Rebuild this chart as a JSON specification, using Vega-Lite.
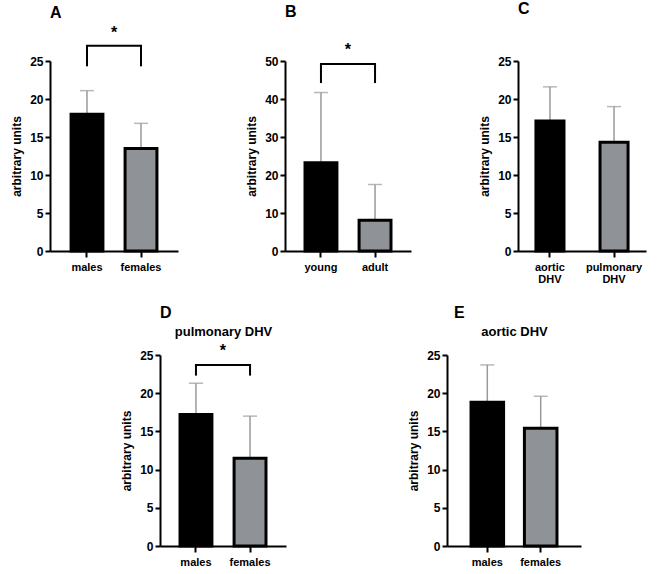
{
  "$schema": "https://vega.github.io/schema/vega-lite/v6.json",
  "padding": {"left": 10, "top": 1, "right": 5, "bottom": 5},
  "background": "white",
  "spacing": 21,
  "config": {
    "view": {"stroke": null},
    "axis": {"domainColor": "black", "domainWidth": 2, "tickColor": "black", "tickWidth": 2, "tickSize": 5, "grid": false,
      "labelFont": "Liberation Sans", "labelFontWeight": "bold", "labelColor": "black", "labelFontSize": 12, "labelPadding": 2,
      "titleFont": "Liberation Sans", "titleFontSize": 12, "titleFontWeight": "bold", "titleColor": "black", "titlePadding": 6},
    "axisX": {"labelFontSize": 11, "tickSize": 6, "labelAngle": 0, "labelPadding": 4, "labelLineHeight": 12},
    "title": {"font": "Liberation Sans", "fontWeight": "bold", "color": "black"},
    "text": {"font": "Liberation Sans"}
  },
  "vconcat": [
    {
      "bounds": "flush",
      "spacing": 107,
      "hconcat": [
        {
          "title": {"text": "A", "anchor": "start", "frame": "group", "fontSize": 16, "offset": 4},
          "width": 128, "height": 190,
          "layer": [
            {
              "data": {"values": [{"group": "males", "mean": 18.0, "upper": 21.1}, {"group": "females", "mean": 13.5, "upper": 16.8}]},
              "layer": [
                {"mark": {"type": "rule", "color": "#9a9a9a", "strokeWidth": 1.5},
                 "encoding": {"x": {"field": "group", "type": "nominal", "scale": {"domain": ["males", "females"], "paddingInner": 0.41, "paddingOuter": 0.39}, "axis": {"title": null}},
                              "y": {"field": "mean", "type": "quantitative", "scale": {"domain": [0, 25], "nice": false}, "axis": {"values": [0, 5, 10, 15, 20, 25], "title": "arbitrary units"}},
                              "y2": {"field": "upper"}}},
                {"mark": {"type": "tick", "color": "#9a9a9a", "thickness": 1.5, "size": 14},
                 "encoding": {"x": {"field": "group", "type": "nominal"}, "y": {"field": "upper", "type": "quantitative", "axis": {"values": [0, 5, 10, 15, 20, 25], "title": "arbitrary units"}}}},
                {"mark": {"type": "bar", "stroke": "black", "strokeWidth": 3},
                 "encoding": {"x": {"field": "group", "type": "nominal"}, "y": {"field": "mean", "type": "quantitative", "axis": {"values": [0, 5, 10, 15, 20, 25], "title": "arbitrary units"}},
                              "fill": {"field": "group", "type": "nominal", "scale": {"domain": ["males", "females"], "range": ["#000000", "#8f9296"]}, "legend": null}}}
              ]
            },
            {
              "data": {"values": [{"g1": "males", "g2": "females", "top": 27.0, "bot": 24.3, "star": 28.0, "sig": "*"}]},
              "layer": [
                {"mark": {"type": "rule", "color": "black", "strokeWidth": 2, "strokeCap": "square"},
                 "encoding": {"x": {"field": "g1", "type": "nominal"}, "x2": {"field": "g2"}, "y": {"field": "top", "type": "quantitative", "axis": {"values": [0, 5, 10, 15, 20, 25], "title": "arbitrary units"}}}},
                {"mark": {"type": "rule", "color": "black", "strokeWidth": 2},
                 "encoding": {"x": {"field": "g1", "type": "nominal"}, "y": {"field": "top", "type": "quantitative", "axis": {"values": [0, 5, 10, 15, 20, 25], "title": "arbitrary units"}}, "y2": {"field": "bot"}}},
                {"mark": {"type": "rule", "color": "black", "strokeWidth": 2},
                 "encoding": {"x": {"field": "g2", "type": "nominal"}, "y": {"field": "top", "type": "quantitative", "axis": {"values": [0, 5, 10, 15, 20, 25], "title": "arbitrary units"}}, "y2": {"field": "bot"}}},
                {"mark": {"type": "text", "fontSize": 16, "fontWeight": "bold", "baseline": "alphabetic", "dx": 27},
                 "encoding": {"x": {"field": "g1", "type": "nominal"}, "y": {"field": "star", "type": "quantitative", "axis": {"values": [0, 5, 10, 15, 20, 25], "title": "arbitrary units"}}, "text": {"field": "sig"}}}
              ]
            }
          ]
        },
        {
          "title": {"text": "B", "anchor": "start", "frame": "group", "fontSize": 16, "offset": 22},
          "width": 126, "height": 190,
          "layer": [
            {
              "data": {"values": [{"group": "young", "mean": 23.2, "upper": 41.7}, {"group": "adult", "mean": 8.1, "upper": 17.5}]},
              "layer": [
                {"mark": {"type": "rule", "color": "#9a9a9a", "strokeWidth": 1.5},
                 "encoding": {"x": {"field": "group", "type": "nominal", "scale": {"domain": ["young", "adult"], "paddingInner": 0.41, "paddingOuter": 0.37}, "axis": {"title": null}},
                              "y": {"field": "mean", "type": "quantitative", "scale": {"domain": [0, 50], "nice": false}, "axis": {"values": [0, 10, 20, 30, 40, 50], "title": "arbitrary units"}},
                              "y2": {"field": "upper"}}},
                {"mark": {"type": "tick", "color": "#9a9a9a", "thickness": 1.5, "size": 14},
                 "encoding": {"x": {"field": "group", "type": "nominal"}, "y": {"field": "upper", "type": "quantitative", "axis": {"values": [0, 10, 20, 30, 40, 50], "title": "arbitrary units"}}}},
                {"mark": {"type": "bar", "stroke": "black", "strokeWidth": 3},
                 "encoding": {"x": {"field": "group", "type": "nominal"}, "y": {"field": "mean", "type": "quantitative", "axis": {"values": [0, 10, 20, 30, 40, 50], "title": "arbitrary units"}},
                              "fill": {"field": "group", "type": "nominal", "scale": {"domain": ["young", "adult"], "range": ["#000000", "#8f9296"]}, "legend": null}}}
              ]
            },
            {
              "data": {"values": [{"g1": "young", "g2": "adult", "top": 49.2, "bot": 44.2, "star": 51.6, "sig": "*"}]},
              "layer": [
                {"mark": {"type": "rule", "color": "black", "strokeWidth": 2, "strokeCap": "square"},
                 "encoding": {"x": {"field": "g1", "type": "nominal"}, "x2": {"field": "g2"}, "y": {"field": "top", "type": "quantitative", "axis": {"values": [0, 10, 20, 30, 40, 50], "title": "arbitrary units"}}}},
                {"mark": {"type": "rule", "color": "black", "strokeWidth": 2},
                 "encoding": {"x": {"field": "g1", "type": "nominal"}, "y": {"field": "top", "type": "quantitative", "axis": {"values": [0, 10, 20, 30, 40, 50], "title": "arbitrary units"}}, "y2": {"field": "bot"}}},
                {"mark": {"type": "rule", "color": "black", "strokeWidth": 2},
                 "encoding": {"x": {"field": "g2", "type": "nominal"}, "y": {"field": "top", "type": "quantitative", "axis": {"values": [0, 10, 20, 30, 40, 50], "title": "arbitrary units"}}, "y2": {"field": "bot"}}},
                {"mark": {"type": "text", "fontSize": 16, "fontWeight": "bold", "baseline": "alphabetic", "dx": 27},
                 "encoding": {"x": {"field": "g1", "type": "nominal"}, "y": {"field": "star", "type": "quantitative", "axis": {"values": [0, 10, 20, 30, 40, 50], "title": "arbitrary units"}}, "text": {"field": "sig"}}}
              ]
            }
          ]
        },
        {
          "title": {"text": "C", "anchor": "start", "frame": "group", "fontSize": 16, "offset": 38},
          "width": 128, "height": 190,
          "data": {"values": [{"group": "aortic DHV", "mean": 17.1, "upper": 21.6}, {"group": "pulmonary DHV", "mean": 14.3, "upper": 19.0}]},
          "layer": [
            {"mark": {"type": "rule", "color": "#9a9a9a", "strokeWidth": 1.5},
             "encoding": {"x": {"field": "group", "type": "nominal", "scale": {"domain": ["aortic DHV", "pulmonary DHV"], "paddingInner": 0.5625, "paddingOuter": 0.28}, "axis": {"title": null, "labelExpr": "split(datum.label, ' ')"}},
                          "y": {"field": "mean", "type": "quantitative", "scale": {"domain": [0, 25], "nice": false}, "axis": {"values": [0, 5, 10, 15, 20, 25], "title": "arbitrary units"}},
                          "y2": {"field": "upper"}}},
            {"mark": {"type": "tick", "color": "#9a9a9a", "thickness": 1.5, "size": 14},
             "encoding": {"x": {"field": "group", "type": "nominal"}, "y": {"field": "upper", "type": "quantitative", "axis": {"values": [0, 5, 10, 15, 20, 25], "title": "arbitrary units"}}}},
            {"mark": {"type": "bar", "stroke": "black", "strokeWidth": 3},
             "encoding": {"x": {"field": "group", "type": "nominal"}, "y": {"field": "mean", "type": "quantitative", "axis": {"values": [0, 5, 10, 15, 20, 25], "title": "arbitrary units"}},
                          "fill": {"field": "group", "type": "nominal", "scale": {"domain": ["aortic DHV", "pulmonary DHV"], "range": ["#000000", "#8f9296"]}, "legend": null}}}
          ]
        }
      ]
    },
    {
      "bounds": "flush",
      "spacing": 20,
      "hconcat": [
        {"width": 90, "height": 10, "data": {"values": []}, "mark": {"type": "point", "opacity": 0}, "encoding": {}},
        {
          "title": {"text": "D", "anchor": "start", "frame": "group", "fontSize": 16, "offset": 4},
          "width": 126, "height": 191,
          "resolve": {"axis": {"x": "independent"}},
          "layer": [
            {
              "data": {"values": [{"group": "males", "mean": 17.2, "upper": 21.3}, {"group": "females", "mean": 11.5, "upper": 17.0}]},
              "layer": [
                {"mark": {"type": "rule", "color": "#9a9a9a", "strokeWidth": 1.5},
                 "encoding": {"x": {"field": "group", "type": "nominal", "scale": {"domain": ["males", "females"], "paddingInner": 0.41, "paddingOuter": 0.37}, "axis": {"title": null}},
                              "y": {"field": "mean", "type": "quantitative", "scale": {"domain": [0, 25], "nice": false}, "axis": {"values": [0, 5, 10, 15, 20, 25], "title": "arbitrary units"}},
                              "y2": {"field": "upper"}}},
                {"mark": {"type": "tick", "color": "#9a9a9a", "thickness": 1.5, "size": 14},
                 "encoding": {"x": {"field": "group", "type": "nominal"}, "y": {"field": "upper", "type": "quantitative", "axis": {"values": [0, 5, 10, 15, 20, 25], "title": "arbitrary units"}}}},
                {"mark": {"type": "bar", "stroke": "black", "strokeWidth": 3},
                 "encoding": {"x": {"field": "group", "type": "nominal"}, "y": {"field": "mean", "type": "quantitative", "axis": {"values": [0, 5, 10, 15, 20, 25], "title": "arbitrary units"}},
                              "fill": {"field": "group", "type": "nominal", "scale": {"domain": ["males", "females"], "range": ["#000000", "#8f9296"]}, "legend": null}}}
              ]
            },
            {
              "data": {"values": [{"g1": "males", "g2": "females", "top": 23.7, "bot": 22.3, "star": 24.9, "sig": "*"}]},
              "layer": [
                {"mark": {"type": "rule", "color": "black", "strokeWidth": 2, "strokeCap": "square"},
                 "encoding": {"x": {"field": "g1", "type": "nominal", "axis": {"orient": "top", "domain": false, "ticks": false, "labels": false, "title": "pulmonary DHV", "titleFontSize": 13, "titlePadding": 17}},
                              "x2": {"field": "g2"}, "y": {"field": "top", "type": "quantitative", "axis": {"values": [0, 5, 10, 15, 20, 25], "title": "arbitrary units"}}}},
                {"mark": {"type": "rule", "color": "black", "strokeWidth": 2},
                 "encoding": {"x": {"field": "g1", "type": "nominal"}, "y": {"field": "top", "type": "quantitative", "axis": {"values": [0, 5, 10, 15, 20, 25], "title": "arbitrary units"}}, "y2": {"field": "bot"}}},
                {"mark": {"type": "rule", "color": "black", "strokeWidth": 2},
                 "encoding": {"x": {"field": "g2", "type": "nominal"}, "y": {"field": "top", "type": "quantitative", "axis": {"values": [0, 5, 10, 15, 20, 25], "title": "arbitrary units"}}, "y2": {"field": "bot"}}},
                {"mark": {"type": "text", "fontSize": 16, "fontWeight": "bold", "baseline": "alphabetic", "dx": 27},
                 "encoding": {"x": {"field": "g1", "type": "nominal"}, "y": {"field": "star", "type": "quantitative", "axis": {"values": [0, 5, 10, 15, 20, 25], "title": "arbitrary units"}}, "text": {"field": "sig"}}}
              ]
            }
          ]
        },
        {"width": 121, "height": 10, "data": {"values": []}, "mark": {"type": "point", "opacity": 0}, "encoding": {}},
        {
          "title": {"text": "E", "anchor": "start", "frame": "group", "fontSize": 16, "offset": 4, "dx": 7},
          "width": 134, "height": 191,
          "resolve": {"axis": {"x": "independent"}},
          "data": {"values": [{"group": "males", "mean": 18.8, "upper": 23.7}, {"group": "females", "mean": 15.4, "upper": 19.6}]},
          "layer": [
            {"mark": {"type": "rule", "color": "#9a9a9a", "strokeWidth": 1.5},
             "encoding": {"x": {"field": "group", "type": "nominal", "scale": {"domain": ["males", "females"], "paddingInner": 0.39, "paddingOuter": 0.45}, "axis": {"title": null}},
                          "y": {"field": "mean", "type": "quantitative", "scale": {"domain": [0, 25], "nice": false}, "axis": {"values": [0, 5, 10, 15, 20, 25], "title": "arbitrary units"}},
                          "y2": {"field": "upper"}}},
            {"mark": {"type": "tick", "color": "#9a9a9a", "thickness": 1.5, "size": 14},
             "encoding": {"x": {"field": "group", "type": "nominal", "axis": {"orient": "top", "domain": false, "ticks": false, "labels": false, "title": "aortic DHV", "titleFontSize": 13, "titlePadding": 17}},
                          "y": {"field": "upper", "type": "quantitative", "axis": {"values": [0, 5, 10, 15, 20, 25], "title": "arbitrary units"}}}},
            {"mark": {"type": "bar", "stroke": "black", "strokeWidth": 3},
             "encoding": {"x": {"field": "group", "type": "nominal", "axis": null}, "y": {"field": "mean", "type": "quantitative", "axis": {"values": [0, 5, 10, 15, 20, 25], "title": "arbitrary units"}},
                          "fill": {"field": "group", "type": "nominal", "scale": {"domain": ["males", "females"], "range": ["#000000", "#8f9296"]}, "legend": null}}}
          ]
        }
      ]
    }
  ]
}
